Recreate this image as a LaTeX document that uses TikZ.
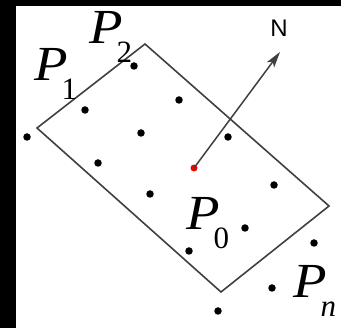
\documentclass[tikz,border=0pt]{standalone}
\usepackage{fontspec}
\setmainfont{Liberation Serif}
\newfontfamily\sansN{Liberation Sans}
\usetikzlibrary{arrows.meta}
\newcommand\subsc[1]{\kern-6pt\raisebox{-19pt}{\fontsize{31}{31}\selectfont #1}}
\newcommand\bigP{\scalebox{1.12}[1]{\textit{P}}}
\begin{document}
\begin{tikzpicture}[x=1pt,y=-1pt,
  pt/.style={circle,fill=black,inner sep=0pt,minimum size=7.5pt},
  redpt/.style={circle,fill=red,inner sep=0pt,minimum size=7pt},
  lbl/.style={anchor=base west,inner sep=0pt,font=\fontsize{49}{49}\selectfont},
  edgeline/.style={draw=black!75,line width=1.6pt},
  normal/.style={draw=black!75,line width=1.5pt,-{Stealth[length=16pt,width=9pt,inset=4pt]}}]
\useasboundingbox (0,0) rectangle (341,328);
\fill[black] (0,0) rectangle (341,328);
\fill[white] (16,6) rectangle (341,328);
% rectangle corners
\coordinate (cl) at (37,128);
\coordinate (ct) at (145,44);
\coordinate (cr) at (329,206);
\coordinate (cb) at (221,292);
\draw[edgeline] (cl) -- (ct) -- (cr) -- (cb) -- cycle;
% points
\node[pt] (d1) at (27,137) {};
\node[pt] (d2) at (134,66) {};
\node[pt] (d3) at (85,110) {};
\node[pt] (d4) at (141,133) {};
\node[pt] (d5) at (98,163) {};
\node[pt] (d6) at (179,100) {};
\node[pt] (d7) at (228,137) {};
\node[pt] (d8) at (150,194) {};
\node[pt] (d9) at (274,185) {};
\node[pt] (d10) at (245,228) {};
\node[pt] (d11) at (189,251) {};
\node[pt] (d12) at (314,243) {};
\node[pt] (d13) at (272,288) {};
\node[pt] (d14) at (218,311) {};
% normal
\coordinate (ntip) at (280,52);
\node[redpt] (p0) at (194,168) {};
\draw[normal] (p0.center) -- (ntip);
\node[font=\sansN\fontsize{24}{24}\selectfont,inner sep=0pt] (nlab) at (279,28) {N};
% labels
\node[lbl] (l1) at (34,81) {\bigP\subsc{1}};
\node[lbl] (l2) at (89,44) {\bigP\subsc{2}};
\node[lbl] (l0) at (186,230) {\bigP\subsc{0}};
\node[lbl] (ln) at (293,298) {\bigP\subsc{\textit{n}}};
\end{tikzpicture}
\end{document}
